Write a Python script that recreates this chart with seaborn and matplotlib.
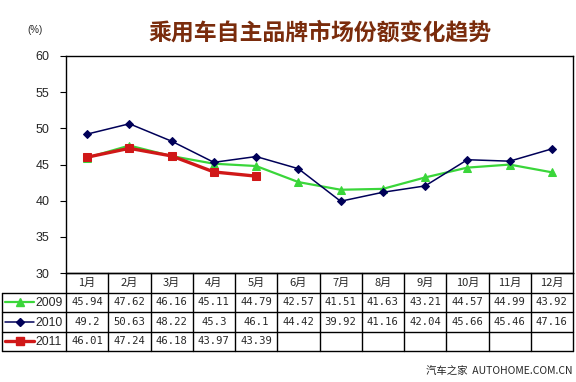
import matplotlib
matplotlib.use("Agg")
import matplotlib.pyplot as plt
import seaborn as sns
import pandas as pd
from matplotlib.lines import Line2D

months = ["1月", "2月", "3月", "4月", "5月", "6月", "7月", "8月", "9月", "10月", "11月", "12月"]
years = ["2009", "2010", "2011"]
v2009 = [45.94, 47.62, 46.16, 45.11, 44.79, 42.57, 41.51, 41.63, 43.21, 44.57, 44.99, 43.92]
v2010 = [49.2, 50.63, 48.22, 45.3, 46.1, 44.42, 39.92, 41.16, 42.04, 45.66, 45.46, 47.16]
v2011 = [46.01, 47.24, 46.18, 43.97, 43.39]
labels2010 = ["49.2", "50.63", "48.22", "45.3", "46.1", "44.42", "39.92", "41.16", "42.04", "45.66", "45.46", "47.16"]
yticks = [30, 35, 40, 45, 50, 55, 60]

sns.set_theme(style="white")
plt.rcParams['font.family'] = ['Noto Sans CJK SC', 'DejaVu Sans']

W, H = 576, 382
fig = plt.figure(figsize=(W / 100, H / 100), dpi=100)

def fx(px):
    return px / W

def fy(px):
    return 1 - px / H

L, R, T, B = 66, 573, 56, 273
ax = fig.add_axes([fx(L), fy(B), (R - L) / W, (B - T) / H])

styles = {
    "2009": dict(color="#3ad63a", lw=1.6, marker="^", ms=6, z=2),
    "2010": dict(color="#000058", lw=1.1, marker="D", ms=4, z=3),
    "2011": dict(color="#d01818", lw=2.4, marker="s", ms=5.5, z=4),
}
series = {"2009": v2009, "2010": v2010, "2011": v2011}
for yr in years:
    vals = series[yr]
    df = pd.DataFrame({"m": list(range(1, len(vals) + 1)), "v": vals})
    st = styles[yr]
    sns.lineplot(data=df, x="m", y="v", ax=ax, color=st["color"], linewidth=st["lw"],
                 marker=st["marker"], markersize=st["ms"], markeredgecolor=st["color"],
                 markerfacecolor=st["color"], zorder=st["z"])

ax.set_xlim(0.5, 12.5)
ax.set_ylim(30, 60)
ax.set_yticks(yticks)
ax.set_yticklabels([str(t) for t in yticks], fontsize=9, family=['Liberation Sans'])
ax.set_xticks([])
ax.set_xlabel("")
ax.set_ylabel("")
ax.tick_params(axis="y", direction="out", length=4, width=0.8, color="black", left=True, pad=8)
for s in ax.spines.values():
    s.set_color("black")
    s.set_linewidth(1.0)

# table
TL, TB = 2, 351
colw = (R - L) / 12
left_units = 0.5 - (L - TL) / colw
tax = fig.add_axes([fx(TL), fy(TB), (R - TL) / W, (TB - B) / H])
tax.set_xlim(left_units, 12.5)
tax.set_ylim(4, 0)
tax.axis("off")
lc = dict(color="black", lw=1.0)
tax.plot([0.5, 12.5], [0, 0], **lc)
for r in [1, 2, 3, 4]:
    tax.plot([left_units, 12.5], [r, r], **lc)
for c in range(13):
    tax.plot([0.5 + c, 0.5 + c], [0, 4], **lc)
tax.plot([left_units, left_units], [1, 4], **lc)
for line in tax.lines:
    line.set_clip_on(False)

num_font = ['DejaVu Sans Mono']
for i, m in enumerate(months):
    tax.text(i + 1, 0.5, m, ha="center", va="center", fontsize=8, family=['Noto Sans CJK SC'])
row_texts = [[f"{v:.2f}" for v in v2009], labels2010, [f"{v:.2f}" for v in v2011]]
for r, texts in enumerate(row_texts):
    for i, t in enumerate(texts):
        tax.text(i + 1, r + 1.5, t, ha="center", va="center", fontsize=7.6, family=num_font)

# legend samples
for r, yr in enumerate(years):
    st = styles[yr]
    x0 = left_units + 3 / colw
    x1 = left_units + 32 / colw
    tax.add_line(Line2D([x0, x1], [r + 1.5, r + 1.5], color=st["color"], lw=st["lw"], clip_on=False))
    tax.add_line(Line2D([(x0 + x1) / 2], [r + 1.5], color=st["color"], marker=st["marker"],
                        ms=st["ms"], markeredgecolor=st["color"], clip_on=False))
    tax.text(x1 + 1 / colw, r + 1.55, yr, ha="left", va="center", fontsize=8.8, family=['Liberation Sans'])

fig.text(fx(320), fy(33), "乘用车自主品牌市场份额变化趋势", ha="center", va="center",
         fontsize=16.5, fontweight="bold", color="#7a2c0c", family=['Noto Sans CJK SC'])
fig.text(fx(35), fy(30), "(%)", ha="center", va="center", fontsize=7, family=['Liberation Sans'])
fig.text(fx(573), fy(372), "汽车之家  AUTOHOME.COM.CN", ha="right", va="center", fontsize=7.5,
         family=['Noto Sans CJK SC', 'DejaVu Sans'])

fig.savefig("out.png", dpi=100, facecolor="white")
